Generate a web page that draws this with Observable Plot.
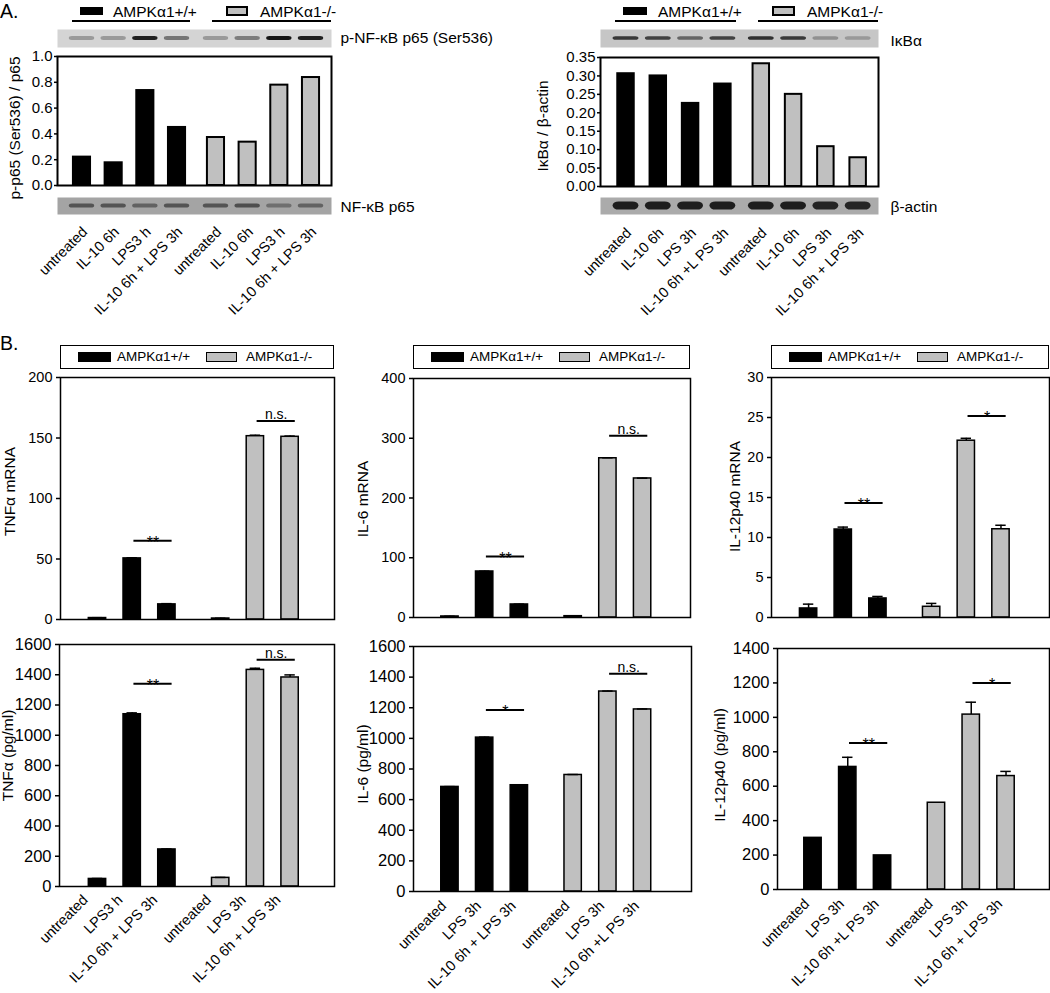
<!DOCTYPE html>
<html><head><meta charset="utf-8">
<script src="https://cdn.jsdelivr.net/npm/d3@7"></script>
<script src="https://cdn.jsdelivr.net/npm/@observablehq/plot@0.6"></script>
<style>
html,body{margin:0;padding:0;background:#fff;overflow:hidden;}
#fig{position:relative;width:1050px;height:993px;background:#fff;overflow:hidden;font-family:Arial,"Liberation Sans",sans-serif;color:#000;}
.t{position:absolute;white-space:nowrap;line-height:1;}
</style></head>
<body><div id="fig"></div>
<script>
// ---------------- data ----------------
const genotypes = ["AMPKα1+/+", "AMPKα1-/-"];

// Panel A (western blot quantification)
const p65Labels = ["untreated","IL-10 6h","LPS3 h","IL-10 6h + LPS 3h","untreated","IL-10 6h","LPS3 h","IL-10 6h + LPS 3h"];
const p65Ratio = [0.22, 0.176, 0.736, 0.45, 0.372, 0.336, 0.778, 0.837];
const p65Ticks = [0, 0.2, 0.4, 0.6, 0.8, 1.0];
const pp65BlotBands = [0.3, 0.3, 0.95, 0.5, 0.3, 0.45, 1.0, 0.95];
const p65BlotBands = [0.6, 0.6, 0.5, 0.6, 0.6, 0.65, 0.4, 0.5];

const ikbaLabels = ["untreated","IL-10 6h","LPS 3h","IL-10 6h +L PS 3h","untreated","IL-10 6h","LPS 3h","IL-10 6h + LPS 3h"];
const ikbaRatio = [0.306, 0.300, 0.2255, 0.278, 0.333, 0.250, 0.108, 0.078];
const ikbaTicks = [0, 0.05, 0.10, 0.15, 0.20, 0.25, 0.30, 0.35];
const ikbaBlotBands = [0.8, 0.75, 0.55, 0.75, 0.85, 0.8, 0.3, 0.25];
const actinBlotBands = [0.95, 0.95, 0.95, 0.95, 0.95, 0.95, 0.9, 0.9];

// Panel B
const tnfLabels = ["untreated","LPS3 h","IL-10 6h + LPS 3h","untreated","LPS 3h","IL-10 6h + LPS 3h"];
const il6Labels = ["untreated","LPS 3h","IL-10 6h + LPS 3h","untreated","LPS 3h","IL-10 6h +L PS 3h"];
const il12Labels = ["untreated","LPS 3h","IL-10 6h +L PS 3h","untreated","LPS 3h","IL-10 6h + LPS 3h"];

const tnfMrna = [1.2, 50.5, 12.5, 0.8, 151.5, 151];
const tnfMrnaErr = [0.3, 0.5, 0.6, 0.2, 0.8, 0.6];
const tnfMrnaTicks = [0, 50, 100, 150, 200];
const tnfMrnaSig = [{from: 1, to: 2, label: "**", y: 65}, {from: 4, to: 5, label: "n.s.", y: 164}];

const il6Mrna = [1.7, 77, 21.8, 2.2, 266.5, 232.7];
const il6MrnaErr = [0.3, 0.5, 0.5, 0.4, 0.8, 0.5];
const il6MrnaTicks = [0, 100, 200, 300, 400];
const il6MrnaSig = [{from: 1, to: 2, label: "**", y: 102}, {from: 4, to: 5, label: "n.s.", y: 304}];

const il12Mrna = [1.13, 11.0, 2.38, 1.34, 22.1, 11.03];
const il12MrnaErr = [0.54, 0.3, 0.25, 0.42, 0.3, 0.5];
const il12MrnaTicks = [0, 5, 10, 15, 20, 25, 30];
const il12MrnaSig = [{from: 1, to: 2, label: "**", y: 14.3}, {from: 4, to: 5, label: "*", y: 25.2}];

const tnfProt = [50, 1139, 245, 57, 1432, 1382];
const tnfProtErr = [3, 9, 3, 3, 11, 17];
const tnfProtTicks = [0, 200, 400, 600, 800, 1000, 1200, 1400, 1600];
const tnfProtSig = [{from: 1, to: 2, label: "**", y: 1340}, {from: 4, to: 5, label: "n.s.", y: 1499}];

const il6Prot = [683, 1005, 694, 761, 1306, 1189];
const il6ProtErr = [2, 3, 3, 3, 3, 3];
const il6ProtTicks = [0, 200, 400, 600, 800, 1000, 1200, 1400, 1600];
const il6ProtSig = [{from: 1, to: 2, label: "*", y: 1186}, {from: 4, to: 5, label: "n.s.", y: 1422}];

const il12Prot = [300, 712, 198, 504, 1016, 659];
const il12ProtErr = [0, 56, 0, 0, 72, 27];
const il12ProtTicks = [0, 200, 400, 600, 800, 1000, 1200, 1400];
const il12ProtSig = [{from: 1, to: 2, label: "**", y: 851}, {from: 4, to: 5, label: "*", y: 1200}];

// ---------------- style ----------------
const FONT = 'Arial, "Liberation Sans", sans-serif';
const FILLS = ["#000000", "#c0c0c0"];
const fig = document.getElementById("fig");

function place(el, left, top) {
  el.style.position = "absolute";
  el.style.left = left + "px";
  el.style.top = top + "px";
  fig.appendChild(el);
  return el;
}
function div(left, top, w, h, style) {
  const d = document.createElement("div");
  Object.assign(d.style, {position: "absolute", left: left + "px", top: top + "px", width: w + "px", height: h + "px", boxSizing: "border-box"}, style || {});
  fig.appendChild(d);
  return d;
}
function text(str, left, cy, size) {
  const d = document.createElement("div");
  d.className = "t";
  d.textContent = str;
  d.style.fontSize = size + "px";
  d.style.left = left + "px";
  d.style.top = (cy - 0.488 * size) + "px";
  fig.appendChild(d);
  return d;
}

function barChart(c) {
  const n = c.values.length, half = n / 2;
  const pos = i => i + (i >= half ? c.gap : 0);
  const rows = c.values.map((v, i) => ({pos: pos(i), value: v, err: c.errors ? c.errors[i] : 0, g: i < half ? 0 : 1, label: c.labels ? c.labels[i] : ""}));
  const [x0, x1, y0, y1] = c.frame;
  const ML = 90, MR = 5, MT = 30, MB = c.mb;
  const tickMap = new Map(rows.map(d => [d.pos, d.label]));
  const errRows = rows.filter(d => d.err > 0);
  const sig = c.sig || [];
  const marks = [
    Plot.rect(rows.filter(d => d.g === 0), {x1: d => d.pos - c.bw / 2, x2: d => d.pos + c.bw / 2, y1: 0, y2: "value", fill: FILLS[0], stroke: "#000", strokeWidth: c.sw}),
    Plot.rect(rows.filter(d => d.g === 1), {x1: d => d.pos - c.bw / 2, x2: d => d.pos + c.bw / 2, y1: 0, y2: "value", fill: FILLS[1], stroke: "#000", strokeWidth: c.sw}),
    Plot.ruleX(errRows, {x: "pos", y1: "value", y2: d => d.value + d.err, stroke: "#000", strokeWidth: 1.5}),
    Plot.ruleY(errRows, {y: d => d.value + d.err, x1: d => d.pos - 0.15, x2: d => d.pos + 0.15, stroke: "#000", strokeWidth: 1.5}),
    Plot.ruleY(sig, {y: "y", x1: d => pos(d.from) + 0.05, x2: d => pos(d.to) + 0.15, stroke: "#000", strokeWidth: 2}),
    Plot.text(sig.filter(d => d.label !== "n.s."), {x: d => (pos(d.from) + pos(d.to)) / 2 + 0.1, y: "y", text: "label", fill: "#000", fontSize: 16, lineAnchor: "middle", dy: 2}),
    Plot.text(sig.filter(d => d.label === "n.s."), {x: d => (pos(d.from) + pos(d.to)) / 2 + 0.1, y: "y", text: "label", fill: "#000", fontSize: 14, lineAnchor: "bottom", dy: -2}),
    Plot.axisY({ticks: c.yTicks, tickFormat: d3.format(c.fmt), tickSize: c.tickSize, tickPadding: c.tickPad, fontSize: c.tickFont, strokeWidth: 1.5, label: null}),
    Plot.text([c.yLabel], {frameAnchor: "left", textAnchor: "middle", lineAnchor: "middle", rotate: -90, dx: c.ylDx, dy: c.ylDy, fontSize: c.ylFont, text: d => d}),
    Plot.frame({stroke: "#000", strokeWidth: c.frameW})
  ];
  if (c.labels) {
    marks.push(Plot.axisX(rows.map(d => d.pos), {tickFormat: d => tickMap.get(d), tickRotate: -45, tickSize: 0, tickPadding: c.xPad, fontSize: c.xFont, dx: c.xDx, label: null}));
  }
  const svg = Plot.plot({
    width: ML + (x1 - x0) + MR,
    height: MT + (y1 - y0) + MB,
    marginLeft: ML, marginRight: MR, marginTop: MT, marginBottom: MB,
    x: c.labels ? {domain: c.xd} : {domain: c.xd, axis: null},
    y: {domain: c.yd},
    style: {background: "transparent", fontFamily: FONT, color: "#000", overflow: "visible", maxWidth: "none"},
    marks
  });
  place(svg, x0 - ML, y0 - MT);
}

function blot(c) {
  const n = c.bands.length, half = n / 2;
  const pos = i => i + (i >= half ? c.gap : 0);
  const rows = c.bands.map((b, i) => ({pos: pos(i), b}));
  const [x0, x1, y0, y1] = c.frame;
  const MR = 200;
  const svg = Plot.plot({
    width: (x1 - x0) + MR, height: y1 - y0,
    marginLeft: 0, marginRight: MR, marginTop: 0, marginBottom: 0,
    x: {domain: c.xd, axis: null},
    y: {domain: [0, 1], axis: null},
    opacity: {type: "identity"},
    style: {background: "transparent", fontFamily: FONT, color: "#000", overflow: "visible", maxWidth: "none"},
    marks: [
      Plot.frame({fill: c.bg, stroke: "none"}),
      Plot.rect(rows, {x1: d => d.pos - 0.4, x2: d => d.pos + 0.4, y1: 0.5 - c.bandH, y2: 0.5 + c.bandH, fill: c.bandColor, fillOpacity: "b", rx: c.rx}),
      Plot.text([c.name], {frameAnchor: "right", textAnchor: "start", dx: c.nameDx, dy: c.nameDy, fontSize: 15.5, text: d => d})
    ]
  });
  place(svg, x0, y0);
}

// ---------------- Panel A ----------------
text("A.", 0, 11.5, 19.5);
text("B.", 0, 344, 19.5);

// A legends (header with lane underlines)
function aHeader(h) {
  div(h.blackSw[0], 7, h.blackSw[1] - h.blackSw[0], 8, {background: FILLS[0]});
  text(genotypes[0], h.blackText, 11.5, 15.5);
  div(h.line0[0], 20, h.line0[1] - h.line0[0], 2, {background: "#000"});
  div(h.graySw[0], 6, h.graySw[1] - h.graySw[0], 10, {background: FILLS[1], border: "2px solid #000"});
  text(genotypes[1], h.grayText, 11.5, 15.5);
  div(h.line1[0], 20, h.line1[1] - h.line1[0], 2, {background: "#000"});
}
aHeader({blackSw: [80, 103], blackText: 113, line0: [72, 190], graySw: [226, 248], grayText: 260, line1: [212, 331]});
aHeader({blackSw: [623, 647], blackText: 658, line0: [615, 736], graySw: [772, 795], grayText: 807, line1: [758, 878]});

const aLeft = {frame: [57, 331, 56, 185], xd: [-0.773, 7.877], gap: 0.23, bw: 0.54};
const aRight = {frame: [600, 878, 57, 186], xd: [-0.79, 7.82], gap: 0.19, bw: 0.51};
const aCommon = {tickSize: 3, tickPad: 2, tickFont: 15, ylFont: 15.5, xPad: 44, xFont: 14.5, xDx: 3, mb: 140, sw: 2, frameW: 2};

barChart({...aCommon, ...aLeft, values: p65Ratio, labels: p65Labels, yd: [0, 1], yTicks: p65Ticks, fmt: ".1f", yLabel: "p-p65 (Ser536) / p65", ylDx: -42, ylDy: 7});
barChart({...aCommon, ...aRight, values: ikbaRatio, labels: ikbaLabels, yd: [0, 0.35], yTicks: ikbaTicks, fmt: ".2f", yLabel: "IκBα / β-actin", ylDx: -57, ylDy: 4});

blot({frame: [57, 331, 29, 47], xd: aLeft.xd, gap: aLeft.gap, bands: pp65BlotBands, bg: "#d4d4d4", bandColor: "#151515", bandH: 0.11, rx: 3, name: "p-NF-κB p65 (Ser536)", nameDx: 9, nameDy: 0});
blot({frame: [57, 331, 197, 214], xd: aLeft.xd, gap: aLeft.gap, bands: p65BlotBands, bg: "#a4a4a4", bandColor: "#202020", bandH: 0.12, rx: 3, name: "NF-κB p65", nameDx: 9, nameDy: 1});
blot({frame: [600, 878, 29, 47], xd: aRight.xd, gap: aRight.gap, bands: ikbaBlotBands, bg: "#c6c6c6", bandColor: "#151515", bandH: 0.1, rx: 3, name: "IκBα", nameDx: 12, nameDy: 3});
blot({frame: [600, 878, 197, 214], xd: aRight.xd, gap: aRight.gap, bands: actinBlotBands, bg: "#ababab", bandColor: "#161616", bandH: 0.24, rx: 6, name: "β-actin", nameDx: 12, nameDy: 1});

// ---------------- Panel B ----------------
function bLegend(x0, x1) {
  div(x0, 345, x1 - x0, 24, {border: "1.5px solid #000"});
  div(x0 + 18, 352, 33, 10, {background: FILLS[0]});
  text(genotypes[0], x0 + 57, 357, 13.5);
  div(x0 + 146, 352, 31, 10, {background: FILLS[1], border: "1.5px solid #000"});
  text(genotypes[1], x0 + 186, 357, 13.5);
}
bLegend(60, 334);
bLegend(413, 690);
bLegend(771, 1049);

const bCommon = {gap: 0.55, bw: 0.5, tickSize: 4, tickPad: 4, ylFont: 15.5, sw: 1.5, frameW: 1.5, fmt: "d"};
const bTop = {...bCommon, tickFont: 14.5, mb: 10};
const bBot = {...bCommon, tickFont: 16.5, mb: 105, xFont: 14.5};

barChart({...bTop, frame: [60, 334, 377, 619], xd: [-1.066, 6.83], values: tnfMrna, errors: tnfMrnaErr, sig: tnfMrnaSig, yd: [0, 200], yTicks: tnfMrnaTicks, yLabel: "TNFα mRNA", ylDx: -50, ylDy: -7});
barChart({...bTop, frame: [413, 690, 378, 617], xd: [-1.05, 6.93], values: il6Mrna, errors: il6MrnaErr, sig: il6MrnaSig, yd: [0, 400], yTicks: il6MrnaTicks, yLabel: "IL-6 mRNA", ylDx: -50, ylDy: 1});
barChart({...bTop, frame: [771, 1049, 377, 617], xd: [-1.07, 6.95], values: il12Mrna, errors: il12MrnaErr, sig: il12MrnaSig, yd: [0, 30], yTicks: il12MrnaTicks, yLabel: "IL-12p40 mRNA", ylDx: -36, ylDy: -1});

barChart({...bBot, frame: [59, 334, 644, 886], xd: [-1.095, 6.83], values: tnfProt, errors: tnfProtErr, sig: tnfProtSig, labels: tnfLabels, yd: [0, 1600], yTicks: tnfProtTicks, yLabel: "TNFα (pg/ml)", ylDx: -51, ylDy: -10, xPad: 11, xDx: -12});
barChart({...bBot, frame: [413, 691, 646, 891], xd: [-1.05, 6.96], values: il6Prot, errors: il6ProtErr, sig: il6ProtSig, labels: il6Labels, yd: [0, 1600], yTicks: il6ProtTicks, yLabel: "IL-6 (pg/ml)", ylDx: -50, ylDy: -5, xPad: 12, xDx: -6});
barChart({...bBot, frame: [777, 1049, 648, 889], xd: [-1.02, 6.8], values: il12Prot, errors: il12ProtErr, sig: il12ProtSig, labels: il12Labels, yd: [0, 1400], yTicks: il12ProtTicks, yLabel: "IL-12p40 (pg/ml)", ylDx: -57, ylDy: -4, xPad: 12, xDx: -6});
</script>
</body></html>
